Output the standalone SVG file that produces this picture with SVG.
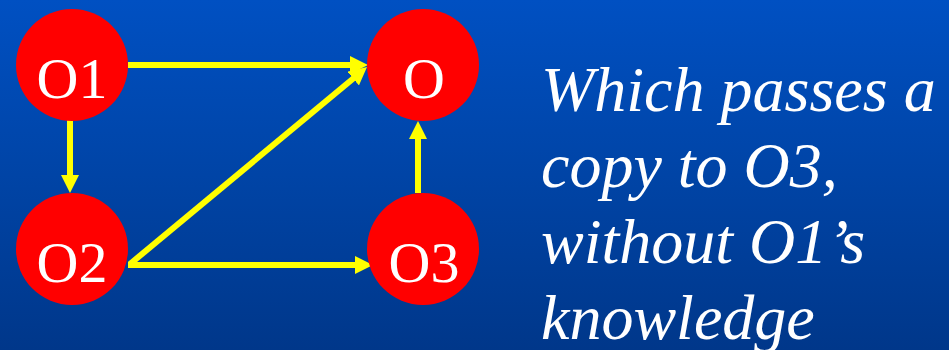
<svg xmlns="http://www.w3.org/2000/svg" width="949" height="350" viewBox="0 0 949 350">
  <defs>
    <linearGradient id="bg" x1="0" y1="0" x2="0" y2="1">
      <stop offset="0" stop-color="#0050C2"/>
      <stop offset="0.5" stop-color="#0044A6"/>
      <stop offset="1" stop-color="#00378A"/>
    </linearGradient>
    <!-- filled yellow arrowhead; the line stops 12px short of the tip -->
    <marker id="head" markerUnits="userSpaceOnUse" markerWidth="18" markerHeight="18" refX="6" refY="9" orient="auto">
      <path d="M0,0 L18,9 L0,18 Z" fill="#FFFF00"/>
    </marker>
    <style>
      .node circle { fill: #FF0000; }
      .node text { font-family: "Liberation Serif", "Times New Roman", serif; font-size: 58px; fill: #FFFFFF; text-anchor: middle; }
      .edge { stroke: #FFFF00; stroke-width: 6; fill: none; marker-end: url(#head); }
      .caption text { font-family: "Liberation Serif", "Times New Roman", serif; font-size: 64px; font-style: italic; fill: #FFFFFF; }
    </style>
  </defs>

  <rect x="0" y="0" width="949" height="350" fill="url(#bg)"/>

  <!-- connectors -->
  <g id="edges">
    <line class="edge" x1="128" y1="65" x2="356" y2="65"/>
    <line class="edge" x1="70" y1="113" x2="70" y2="181"/>
    <line class="edge" x1="128" y1="265" x2="361" y2="265"/>
    <line class="edge" x1="130" y1="264" x2="357.8" y2="74.7"/>
    <line class="edge" x1="418" y1="193" x2="418" y2="133"/>
  </g>

  <!-- nodes -->
  <g id="O1" class="node">
    <circle cx="72" cy="65" r="56"/>
    <text x="72" y="98">O1</text>
  </g>
  <g id="O" class="node">
    <circle cx="423" cy="65" r="56"/>
    <text x="424" y="98">O</text>
  </g>
  <g id="O2" class="node">
    <circle cx="72" cy="249" r="56"/>
    <text x="72" y="282">O2</text>
  </g>
  <g id="O3" class="node">
    <circle cx="423" cy="249" r="56"/>
    <text x="424" y="282">O3</text>
  </g>

  <!-- side caption; the last line runs past the bottom edge -->
  <g id="caption" class="caption">
    <text x="541" y="111">Which passes a</text>
    <text x="541" y="187">copy to O3,</text>
    <text x="541" y="263">without O1’s</text>
    <text x="541" y="339">knowledge</text>
  </g>
</svg>
